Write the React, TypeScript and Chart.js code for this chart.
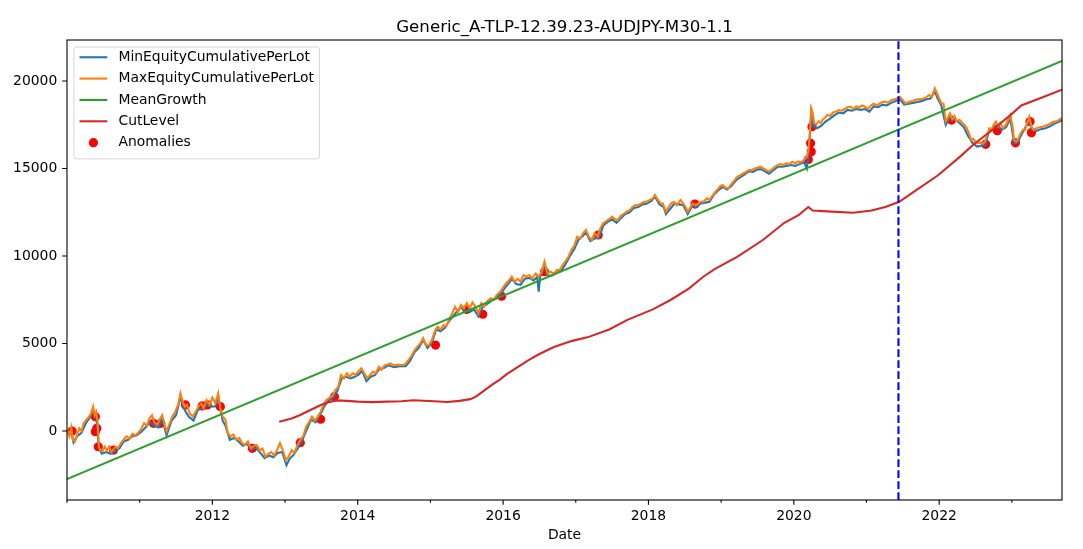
import { useEffect, useRef } from 'react';
import { Chart, registerables } from 'chart.js';

Chart.register(...registerables);

const chartTitle = 'Generic_A-TLP-12.39.23-AUDJPY-M30-1.1';
const xAxisLabel = 'Date';

// [decimal year, value]
const maxEquity: [number, number][] = [
  [2010.00, 100], [2010.03, -300], [2010.06, 200], [2010.08, -500], [2010.11, -600], [2010.14, -200],
  [2010.17, 150], [2010.20, 0], [2010.23, 450], [2010.26, 600], [2010.30, 800], [2010.33, 1000],
  [2010.36, 1390], [2010.38, 900], [2010.40, 1100], [2010.42, 600], [2010.44, -900], [2010.46, -1100],
  [2010.49, -1150], [2010.52, -900], [2010.55, -1100], [2010.58, -900], [2010.61, -1200], [2010.64, -1050],
  [2010.67, -900], [2010.70, -1000], [2010.74, -700], [2010.78, -500], [2010.82, -300], [2010.86, -450],
  [2010.90, -150], [2010.94, -250], [2010.98, -100], [2011.02, 100], [2011.06, 450], [2011.10, 300],
  [2011.13, 700], [2011.17, 900], [2011.20, 500], [2011.24, 340], [2011.28, 700], [2011.31, 900],
  [2011.34, 400], [2011.37, -30], [2011.41, 400], [2011.45, 830], [2011.49, 1100], [2011.53, 1500],
  [2011.56, 2150], [2011.59, 1700], [2011.62, 1390], [2011.65, 1500], [2011.69, 1000], [2011.73, 830],
  [2011.77, 1100], [2011.81, 1400], [2011.85, 1580], [2011.88, 1300], [2011.92, 1770], [2011.96, 1500],
  [2012.00, 1900], [2012.04, 1600], [2012.08, 2150], [2012.11, 1300], [2012.14, 830], [2012.18, 640],
  [2012.21, -100], [2012.25, -320], [2012.29, -200], [2012.33, -510], [2012.37, -400], [2012.41, -700],
  [2012.45, -800], [2012.49, -600], [2012.53, -990], [2012.57, -850], [2012.61, -800], [2012.65, -1100],
  [2012.69, -1000], [2012.73, -1470], [2012.77, -1300], [2012.81, -1200], [2012.85, -1400], [2012.89, -1100],
  [2012.93, -700], [2012.97, -1100], [2013.01, -1660], [2013.05, -1470], [2013.09, -1100], [2013.13, -1250],
  [2013.17, -800], [2013.21, -510], [2013.25, -300], [2013.29, 250], [2013.33, 500], [2013.37, 820],
  [2013.41, 600], [2013.45, 820], [2013.49, 1100], [2013.53, 1500], [2013.57, 1770], [2013.61, 1900],
  [2013.65, 2000], [2013.69, 2340], [2013.73, 2500], [2013.77, 3200], [2013.81, 3000], [2013.85, 3300],
  [2013.89, 3100], [2013.93, 3290], [2013.97, 3200], [2014.01, 3400], [2014.05, 3580], [2014.09, 3300],
  [2014.13, 3010], [2014.17, 3200], [2014.21, 3400], [2014.25, 3300], [2014.29, 3670], [2014.33, 3500],
  [2014.37, 3750], [2014.41, 3800], [2014.45, 3860], [2014.50, 3750], [2014.55, 3800], [2014.60, 3770],
  [2014.65, 3800], [2014.70, 4060], [2014.74, 4300], [2014.78, 4600], [2014.82, 4820], [2014.86, 5000],
  [2014.90, 5300], [2014.94, 4900], [2014.98, 4910], [2015.02, 5200], [2015.06, 5700], [2015.10, 5960],
  [2015.14, 5800], [2015.18, 6050], [2015.22, 6000], [2015.26, 6400], [2015.30, 6720], [2015.34, 7100],
  [2015.38, 6800], [2015.42, 7200], [2015.46, 7000], [2015.50, 7300], [2015.54, 7000], [2015.58, 7350],
  [2015.62, 7100], [2015.66, 6720], [2015.70, 7300], [2015.74, 7100], [2015.78, 7400], [2015.83, 7580],
  [2015.87, 7500], [2015.92, 7800], [2015.96, 7960], [2016.00, 8200], [2016.04, 8440], [2016.08, 8600],
  [2016.12, 8820], [2016.16, 8530], [2016.20, 8700], [2016.24, 8530], [2016.28, 8900], [2016.32, 8820],
  [2016.36, 8910], [2016.40, 8700], [2016.45, 9000], [2016.49, 8800], [2016.53, 9100], [2016.57, 9680],
  [2016.61, 9010], [2016.65, 9100], [2016.70, 9000], [2016.74, 9200], [2016.78, 9200], [2016.82, 9500],
  [2016.86, 9700], [2016.90, 9960], [2016.94, 10340], [2016.98, 10600], [2017.02, 11100], [2017.06, 11000],
  [2017.10, 11300], [2017.14, 11490], [2017.18, 11100], [2017.22, 10910], [2017.26, 11300], [2017.30, 11100],
  [2017.34, 11600], [2017.38, 11870], [2017.42, 12000], [2017.46, 12100], [2017.50, 12250], [2017.54, 12100],
  [2017.58, 12060], [2017.62, 12300], [2017.66, 12400], [2017.70, 12530], [2017.74, 12600], [2017.78, 12800],
  [2017.82, 12910], [2017.86, 12900], [2017.90, 13000], [2017.94, 13100], [2017.98, 13100], [2018.02, 13200],
  [2018.06, 13300], [2018.09, 13490], [2018.13, 13200], [2018.17, 13000], [2018.20, 13000], [2018.24, 12530],
  [2018.28, 12800], [2018.31, 13000], [2018.35, 13100], [2018.39, 12900], [2018.44, 13200], [2018.48, 13000],
  [2018.51, 12800], [2018.54, 12530], [2018.58, 12800], [2018.61, 13000], [2018.65, 12900], [2018.69, 13000],
  [2018.72, 13100], [2018.76, 13100], [2018.80, 13300], [2018.84, 13200], [2018.87, 13390], [2018.91, 13600],
  [2018.95, 13800], [2018.99, 14000], [2019.02, 14060], [2019.06, 13900], [2019.10, 13870], [2019.14, 14100],
  [2019.18, 14300], [2019.22, 14530], [2019.26, 14600], [2019.30, 14700], [2019.34, 14800], [2019.38, 14910],
  [2019.42, 14900], [2019.46, 15000], [2019.50, 15050], [2019.54, 15100], [2019.58, 15000], [2019.62, 14900],
  [2019.66, 14820], [2019.70, 14950], [2019.74, 15100], [2019.78, 15200], [2019.82, 15250], [2019.86, 15200],
  [2019.90, 15300], [2019.94, 15250], [2019.98, 15390], [2020.02, 15300], [2020.06, 15400], [2020.10, 15350],
  [2020.14, 15490], [2020.18, 15680], [2020.20, 16000], [2020.22, 17000], [2020.24, 18440], [2020.26, 18200],
  [2020.28, 17580], [2020.31, 17500], [2020.34, 17700], [2020.37, 17600], [2020.40, 17800], [2020.43, 17900],
  [2020.46, 18060], [2020.50, 18000], [2020.54, 18200], [2020.58, 18250], [2020.62, 18340], [2020.66, 18300],
  [2020.70, 18400], [2020.74, 18500], [2020.78, 18530], [2020.82, 18400], [2020.86, 18550], [2020.90, 18500],
  [2020.94, 18600], [2020.98, 18530], [2021.02, 18400], [2021.06, 18600], [2021.10, 18700], [2021.14, 18600],
  [2021.18, 18720], [2021.22, 18800], [2021.26, 18820], [2021.30, 18750], [2021.34, 18900], [2021.38, 18950],
  [2021.42, 19000], [2021.46, 19100], [2021.50, 18900], [2021.54, 18720], [2021.58, 18800], [2021.62, 18850],
  [2021.66, 18900], [2021.70, 18950], [2021.74, 18950], [2021.78, 19000], [2021.82, 19060], [2021.86, 19200],
  [2021.90, 19100], [2021.94, 19580], [2021.97, 19300], [2022.00, 19000], [2022.03, 18720], [2022.06, 18700],
  [2022.09, 17680], [2022.12, 17900], [2022.15, 18150], [2022.18, 17800], [2022.21, 18000], [2022.24, 17700],
  [2022.28, 17780], [2022.32, 17600], [2022.35, 17490], [2022.38, 17300], [2022.41, 17000], [2022.44, 16630],
  [2022.47, 16700], [2022.50, 16500], [2022.53, 16440], [2022.56, 16500], [2022.60, 16400], [2022.63, 16530],
  [2022.66, 16900], [2022.69, 17300], [2022.72, 17200], [2022.75, 17500], [2022.78, 17680], [2022.81, 17400],
  [2022.84, 17600], [2022.88, 17300], [2022.92, 17500], [2022.95, 17800], [2022.98, 18060], [2023.01, 17400],
  [2023.03, 16630], [2023.06, 16530], [2023.09, 16700], [2023.12, 17000], [2023.15, 17200], [2023.18, 17200],
  [2023.21, 17600], [2023.24, 17960], [2023.27, 17400], [2023.30, 17200], [2023.34, 17300], [2023.38, 17350],
  [2023.42, 17390], [2023.46, 17450], [2023.50, 17500], [2023.54, 17600], [2023.58, 17680], [2023.62, 17700],
  [2023.66, 17800], [2023.69, 17870],
];

const minEquity: [number, number][] = [
  [2010.00, 0], [2010.06, -100], [2010.09, -650], [2010.14, -300], [2010.20, -100], [2010.26, 450],
  [2010.32, 800], [2010.36, 1200], [2010.40, 900], [2010.44, -1000], [2010.48, -1300], [2010.54, -1200],
  [2010.60, -1300], [2010.66, -1150], [2010.72, -1000], [2010.78, -600], [2010.84, -500], [2010.90, -300],
  [2010.96, -250], [2011.02, -50], [2011.08, 200], [2011.14, 500], [2011.20, 300], [2011.26, 200],
  [2011.31, 700], [2011.37, -250], [2011.44, 600], [2011.50, 900], [2011.56, 1900], [2011.62, 1200],
  [2011.68, 800], [2011.74, 600], [2011.80, 1200], [2011.86, 1300], [2011.92, 1500], [2011.98, 1400],
  [2012.04, 1400], [2012.08, 1900], [2012.14, 600], [2012.18, 300], [2012.24, -500], [2012.30, -400],
  [2012.36, -600], [2012.42, -850], [2012.48, -750], [2012.54, -1050], [2012.60, -950], [2012.66, -1250],
  [2012.72, -1550], [2012.78, -1400], [2012.84, -1500], [2012.90, -1250], [2012.96, -1200], [2013.02, -1950],
  [2013.06, -1600], [2013.12, -1350], [2013.18, -950], [2013.24, -500], [2013.30, 100], [2013.36, 650],
  [2013.42, 500], [2013.48, 900], [2013.54, 1400], [2013.60, 1750], [2013.66, 1900], [2013.72, 2300],
  [2013.78, 3000], [2013.84, 3100], [2013.90, 3000], [2013.96, 3100], [2014.02, 3250], [2014.06, 3450],
  [2014.12, 2850], [2014.18, 3100], [2014.24, 3200], [2014.30, 3550], [2014.36, 3600], [2014.42, 3750],
  [2014.50, 3650], [2014.58, 3700], [2014.66, 3700], [2014.72, 4000], [2014.78, 4500], [2014.84, 4750],
  [2014.90, 5200], [2014.96, 4750], [2015.02, 5050], [2015.08, 5800], [2015.14, 5700], [2015.20, 5900],
  [2015.26, 6300], [2015.32, 6600], [2015.36, 6800], [2015.42, 7050], [2015.48, 6900], [2015.54, 6800],
  [2015.60, 6950], [2015.66, 6550], [2015.72, 7100], [2015.78, 7250], [2015.84, 7450], [2015.90, 7600],
  [2015.96, 7800], [2016.02, 8150], [2016.08, 8450], [2016.12, 8700], [2016.18, 8400], [2016.24, 8350],
  [2016.30, 8700], [2016.36, 8750], [2016.42, 8600], [2016.47, 8800], [2016.49, 7960], [2016.51, 8800],
  [2016.57, 9400], [2016.62, 8850], [2016.68, 8900], [2016.74, 9050], [2016.80, 9150], [2016.86, 9550],
  [2016.92, 10000], [2016.98, 10400], [2017.04, 10950], [2017.10, 11150], [2017.14, 11350], [2017.20, 10850],
  [2017.26, 11000], [2017.32, 11050], [2017.38, 11750], [2017.44, 11950], [2017.50, 12100], [2017.56, 11900],
  [2017.62, 12150], [2017.68, 12400], [2017.74, 12500], [2017.80, 12750], [2017.86, 12800], [2017.92, 12950],
  [2017.98, 13000], [2018.04, 13150], [2018.09, 13400], [2018.15, 12950], [2018.21, 12800], [2018.24, 12400],
  [2018.30, 12700], [2018.36, 13000], [2018.42, 12950], [2018.48, 12900], [2018.54, 12400], [2018.60, 12850],
  [2018.66, 12800], [2018.72, 13000], [2018.78, 13050], [2018.84, 13100], [2018.90, 13500], [2018.96, 13750],
  [2019.02, 13950], [2019.08, 13800], [2019.14, 14000], [2019.20, 14300], [2019.26, 14500], [2019.32, 14650],
  [2019.38, 14850], [2019.44, 14800], [2019.50, 14950], [2019.56, 14950], [2019.62, 14800], [2019.66, 14700],
  [2019.72, 14900], [2019.78, 15100], [2019.84, 15100], [2019.90, 15150], [2019.96, 15200], [2020.02, 15150],
  [2020.08, 15250], [2020.14, 15350], [2020.18, 15000], [2020.21, 16200], [2020.24, 18200], [2020.27, 17400],
  [2020.32, 17300], [2020.38, 17450], [2020.44, 17700], [2020.50, 17850], [2020.56, 18050], [2020.62, 18200],
  [2020.68, 18150], [2020.74, 18350], [2020.80, 18300], [2020.86, 18400], [2020.92, 18350], [2020.98, 18400],
  [2021.04, 18250], [2021.10, 18550], [2021.16, 18500], [2021.22, 18650], [2021.28, 18600], [2021.34, 18750],
  [2021.40, 18850], [2021.46, 18950], [2021.52, 18650], [2021.58, 18700], [2021.64, 18750], [2021.70, 18800],
  [2021.76, 18850], [2021.82, 18950], [2021.88, 19000], [2021.94, 19400], [2021.98, 19000], [2022.03, 18600],
  [2022.09, 17500], [2022.15, 17950], [2022.21, 17800], [2022.28, 17600], [2022.34, 17350], [2022.40, 16850],
  [2022.46, 16450], [2022.52, 16250], [2022.58, 16300], [2022.63, 16300], [2022.68, 17050], [2022.74, 17350],
  [2022.80, 17500], [2022.86, 17200], [2022.92, 17350], [2022.98, 17850], [2023.03, 16450], [2023.08, 16500],
  [2023.14, 17000], [2023.20, 17450], [2023.24, 17750], [2023.28, 17200], [2023.34, 17150], [2023.40, 17250],
  [2023.46, 17300], [2023.52, 17400], [2023.58, 17550], [2023.64, 17650], [2023.69, 17750],
];

const meanGrowth: [number, number][] = [
  [2010.0, -2748], [2023.69, 21148],
];

const cutLevel: [number, number][] = [
  [2012.92, 530], [2013.00, 620], [2013.10, 730], [2013.20, 900], [2013.30, 1100], [2013.40, 1300],
  [2013.50, 1500], [2013.60, 1650], [2013.71, 1750], [2013.85, 1720], [2014.00, 1680], [2014.20, 1650],
  [2014.40, 1680], [2014.60, 1700], [2014.77, 1760], [2014.90, 1730], [2015.05, 1700], [2015.23, 1660],
  [2015.40, 1720], [2015.55, 1820], [2015.62, 1950], [2015.72, 2250], [2015.85, 2650], [2015.96, 2950],
  [2016.05, 3250], [2016.20, 3650], [2016.35, 4050], [2016.50, 4400], [2016.70, 4800], [2016.95, 5150],
  [2017.16, 5350], [2017.46, 5800], [2017.71, 6350], [2018.06, 6950], [2018.31, 7500], [2018.56, 8150],
  [2018.75, 8800], [2018.91, 9250], [2019.22, 9950], [2019.57, 10900], [2019.87, 11900], [2020.07, 12350],
  [2020.20, 12800], [2020.26, 12600], [2020.46, 12550], [2020.82, 12470], [2021.07, 12600], [2021.27, 12820],
  [2021.45, 13100], [2021.68, 13750], [2021.98, 14600], [2022.28, 15650], [2022.48, 16400], [2022.73, 17200],
  [2022.98, 18050], [2023.13, 18600], [2023.38, 19000], [2023.69, 19500],
];

const anomalies: [number, number][] = [
  [2010.07, 0], [2010.39, 820], [2010.41, 150], [2010.39, -40], [2010.43, -900], [2010.64, -1090],
  [2011.19, 440], [2011.29, 440], [2011.63, 1490], [2011.86, 1430], [2011.93, 1490], [2012.11, 1390],
  [2012.55, -990], [2013.21, -670], [2013.49, 670], [2013.68, 1960], [2015.07, 4910], [2015.50, 6950],
  [2015.72, 6670], [2015.98, 7700], [2016.57, 9100], [2017.31, 11200], [2018.64, 12970], [2020.20, 15520],
  [2020.24, 15960], [2020.23, 16440], [2020.25, 17390], [2022.17, 17770], [2022.64, 16380], [2022.80, 17160],
  [2023.05, 16470], [2023.25, 17680], [2023.27, 17050],
];

// out-of-sample split date
const cutoffDate = 2021.44;

const xStart = 2010.0;
const xEnd = 2023.69;
const yStart = -3943;
const yEnd = 22343;
const yTickValues = [0, 5000, 10000, 15000, 20000];
const xTickYears = [2010, 2011, 2012, 2013, 2014, 2015, 2016, 2017, 2018, 2019, 2020, 2021, 2022, 2023];
const xLabelYears = [2012, 2014, 2016, 2018, 2020, 2022];

const FONT = 'DejaVu Sans';
const FS = 13.9;

const toPoints = (arr: [number, number][]) => arr.map(([x, y]) => ({ x, y }));

const decorPlugin = {
  id: 'decor',
  afterDatasetsDraw(chart: any) {
    const { ctx, chartArea: a, scales } = chart;
    const px = scales.x.getPixelForValue(cutoffDate);
    ctx.save();
    ctx.beginPath();
    ctx.rect(a.left, a.top, a.right - a.left, a.bottom - a.top);
    ctx.clip();
    ctx.strokeStyle = '#0000ff';
    ctx.lineWidth = 2.08;
    ctx.lineCap = 'butt';
    ctx.setLineDash([7.7, 3.3]);
    ctx.beginPath();
    ctx.moveTo(px, a.bottom);
    ctx.lineTo(px, a.top);
    ctx.stroke();
    ctx.restore();
  },
  afterDraw(chart: any) {
    const { ctx, chartArea: a, scales } = chart;
    ctx.save();
    // frame
    ctx.strokeStyle = '#000';
    ctx.lineWidth = 1.1;
    ctx.strokeRect(a.left, a.top, a.right - a.left, a.bottom - a.top);
    // tick marks
    ctx.beginPath();
    xTickYears.forEach((yr) => {
      const px = scales.x.getPixelForValue(yr);
      const len = xLabelYears.includes(yr) ? 4.86 : 2.78;
      ctx.moveTo(px, a.bottom);
      ctx.lineTo(px, a.bottom + len);
    });
    yTickValues.forEach((v) => {
      const py = scales.y.getPixelForValue(v);
      ctx.moveTo(a.left - 4.86, py);
      ctx.lineTo(a.left, py);
    });
    ctx.stroke();

    // title and axis label
    ctx.fillStyle = '#000';
    ctx.textAlign = 'center';
    ctx.textBaseline = 'alphabetic';
    ctx.font = `16.67px "${FONT}"`;
    const cx = (a.left + a.right) / 2;
    ctx.fillText(chartTitle, cx, a.top - 8.3);
    ctx.font = `${FS}px "${FONT}"`;
    ctx.textBaseline = 'middle';
    ctx.fillText(xAxisLabel, cx, 535);

    // legend
    const entries = chart.data.datasets.filter((d: any) => d.label);
    const em = FS;
    const boxX = a.left + 0.5 * em;
    const boxY = a.top + 0.5 * em;
    const handleX0 = boxX + 0.4 * em;
    const handleX1 = handleX0 + 2 * em;
    const textX = handleX1 + 0.8 * em;
    ctx.font = `${FS}px "${FONT}"`;
    let maxW = 0;
    entries.forEach((d: any) => { maxW = Math.max(maxW, ctx.measureText(d.label).width); });
    const rowH = 21.35;
    const boxW = textX + maxW + 0.4 * em - boxX;
    const boxH = 0.4 * em * 2 + rowH * entries.length - 0.5 * em + 1;
    ctx.beginPath();
    ctx.roundRect(boxX, boxY, boxW, boxH, 3);
    ctx.fillStyle = 'rgba(255,255,255,0.8)';
    ctx.fill();
    ctx.strokeStyle = 'rgba(204,204,204,0.8)';
    ctx.lineWidth = 1;
    ctx.stroke();
    entries.forEach((d: any, i: number) => {
      const cy = boxY + 10.3 + i * rowH;
      if (d.showLine === false) {
        ctx.beginPath();
        ctx.arc((handleX0 + handleX1) / 2, cy, d.pointRadius, 0, Math.PI * 2);
        ctx.fillStyle = d.pointBackgroundColor;
        ctx.fill();
      } else {
        ctx.beginPath();
        ctx.strokeStyle = d.borderColor;
        ctx.lineWidth = d.borderWidth;
        ctx.moveTo(handleX0, cy);
        ctx.lineTo(handleX1, cy);
        ctx.stroke();
      }
      ctx.fillStyle = '#000';
      ctx.textAlign = 'left';
      ctx.textBaseline = 'middle';
      ctx.fillText(d.label, textX, cy);
    });
    ctx.restore();
  },
};

export default function App() {
  const canvasRef = useRef<HTMLCanvasElement | null>(null);

  useEffect(() => {
    const canvas = canvasRef.current;
    if (!canvas) return;
    Chart.defaults.font.family = FONT;
    Chart.defaults.font.size = FS;
    Chart.defaults.color = '#000';

    const lineStyle = {
      pointRadius: 0,
      borderWidth: 2.08,
      tension: 0,
      fill: false,
    };

    const chart = new Chart(canvas, {
      type: 'line',
      data: {
        datasets: [
          { ...lineStyle, label: 'MinEquityCumulativePerLot', data: toPoints(minEquity), borderColor: '#1f77b4', order: 4 },
          { ...lineStyle, label: 'MaxEquityCumulativePerLot', data: toPoints(maxEquity), borderColor: '#ff7f0e', order: 3 },
          { ...lineStyle, label: 'MeanGrowth', data: toPoints(meanGrowth), borderColor: '#2ca02c', order: 2 },
          { ...lineStyle, label: 'CutLevel', data: toPoints(cutLevel), borderColor: '#d62728', order: 1 },
          {
            label: 'Anomalies',
            data: toPoints(anomalies),
            showLine: false,
            pointRadius: 4.6,
            pointBorderWidth: 0,
            pointBackgroundColor: '#ff0000',
            pointBorderColor: '#ff0000',
            borderColor: '#ff0000',
            backgroundColor: '#ff0000',
            order: 5,
          },
        ] as any,
      },
      options: {
        responsive: false,
        animation: false,
        events: [],
        layout: { padding: { left: 0, top: 40, right: 21, bottom: 0 } },
        plugins: {
          legend: { display: false },
          title: { display: false },
          tooltip: { enabled: false },
        },
        scales: {
          x: {
            type: 'linear',
            min: xStart,
            max: xEnd,
            grid: { display: false, drawTicks: false },
            border: { display: false },
            afterBuildTicks: (axis: any) => {
              axis.ticks = xTickYears.map((v) => ({ value: v }));
            },
            afterFit: (scale: any) => {
              scale.height = 49;
            },
            ticks: {
              autoSkip: false,
              maxRotation: 0,
              padding: 8,
              font: { family: FONT, size: FS },
              color: '#000',
              callback: (v: any) => (xLabelYears.includes(Number(v)) ? String(v) : ''),
            },
          },
          y: {
            type: 'linear',
            min: yStart,
            max: yEnd,
            grid: { display: false, drawTicks: false },
            border: { display: false },
            afterBuildTicks: (axis: any) => {
              axis.ticks = yTickValues.map((v) => ({ value: v }));
            },
            afterFit: (scale: any) => {
              scale.width = 67;
            },
            ticks: {
              padding: 9.7,
              font: { family: FONT, size: FS },
              color: '#000',
              callback: (v: any) => String(v),
            },
          },
        },
      } as any,
      plugins: [decorPlugin],
    });

    return () => chart.destroy();
  }, []);

  return (
    <div style={{ position: 'absolute', left: 0, top: 0, width: 1083, height: 549, background: '#fff' }}>
      <canvas ref={canvasRef} width={1083} height={549} style={{ display: 'block' }} />
    </div>
  );
}
